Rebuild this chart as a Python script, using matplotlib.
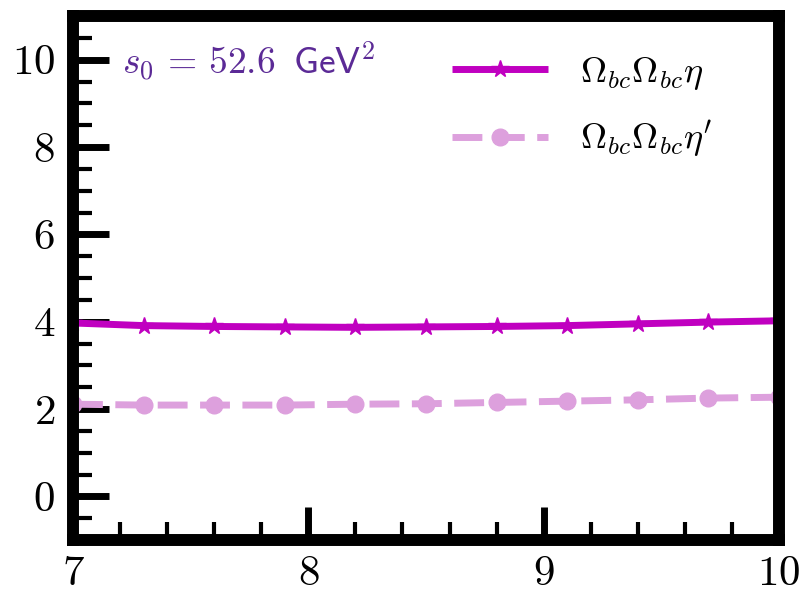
import matplotlib
matplotlib.use("Agg")
import matplotlib.pyplot as plt
from matplotlib.ticker import MultipleLocator

plt.rcParams["mathtext.fontset"] = "cm"
plt.rcParams["font.family"] = "serif"
plt.rcParams["font.serif"] = ["cmr10", "DejaVu Serif"]
plt.rcParams["axes.formatter.use_mathtext"] = True

# M^2 values and the two curves
x = [7.0, 7.3, 7.6, 7.9, 8.2, 8.5, 8.8, 9.1, 9.4, 9.7, 10.0]
y_eta = [3.97, 3.91, 3.89, 3.88, 3.87, 3.88, 3.89, 3.91, 3.95, 3.99, 4.02]
y_etap = [2.11, 2.09, 2.09, 2.09, 2.11, 2.12, 2.15, 2.18, 2.21, 2.25, 2.27]

label_eta = r"$\Omega_{bc}\Omega_{bc}\eta$"
label_etap = r"$\Omega_{bc}\Omega_{bc}\eta'$"
s0_text = r"$s_0\,=\,52.6\;\;\mathsf{GeV}^2$"

W, H = 805, 593
fig = plt.figure(figsize=(W / 100, H / 100), dpi=100)
ax = fig.add_axes([73 / W, 1 - 540 / H, (779 - 73) / W, (540 - 16) / H])

ax.plot(x, y_eta, color="#c000c0", lw=5, marker="*", ms=13, mec="#c000c0",
        label=label_eta, solid_capstyle="butt")
ax.plot(x, y_etap, color="#dda0dd", lw=5, ls=(0, (4.3, 1.8)), marker="o", ms=12,
        mec="#dda0dd", label=label_etap)

ax.set_xlim(7, 10)
ax.set_ylim(-1, 11)
ax.set_xticks([7, 8, 9, 10])
ax.set_yticks([0, 2, 4, 6, 8, 10])
ax.xaxis.set_minor_locator(MultipleLocator(0.2))
ax.yaxis.set_minor_locator(MultipleLocator(0.5))

for s in ax.spines.values():
    s.set_linewidth(8.6)
ax.tick_params(which="both", direction="in", top=False, right=False, labelsize=31, pad=13)
ax.tick_params(axis="x", which="both", pad=11)
ax.tick_params(axis="y", which="major", length=26, width=5)
ax.tick_params(axis="y", which="minor", length=14, width=3)
ax.tick_params(axis="x", which="major", length=24, width=5)
ax.tick_params(axis="x", which="minor", length=13, width=3)

ax.text(0.069, 0.912, s0_text, transform=ax.transAxes, fontsize=27,
        color="#5b2a96", ha="left", va="center")

ax.legend(loc="upper left", bbox_to_anchor=(452 / W, 1 - 55 / H),
          bbox_transform=fig.transFigure, frameon=False, fontsize=26,
          handlelength=2.65, handletextpad=0.9, borderpad=0, borderaxespad=0,
          labelspacing=0.75, numpoints=1)

fig.savefig("out.png", dpi=100)
